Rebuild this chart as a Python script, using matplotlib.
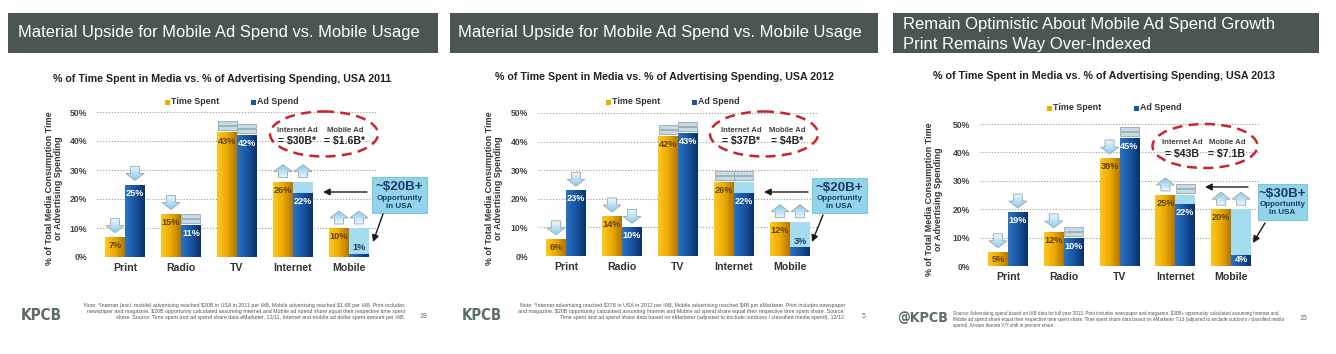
import numpy as np
import matplotlib
matplotlib.use("Agg")
import matplotlib.pyplot as plt
from matplotlib.patches import Rectangle, Polygon, Ellipse, FancyArrowPatch
from matplotlib.transforms import ScaledTranslation
from matplotlib.colors import LinearSegmentedColormap

plt.rcParams['font.family'] = ['Liberation Sans', 'DejaVu Sans']

# ---------------- data ----------------
categories = ["Print", "Radio", "TV", "Internet", "Mobile"]
y_ticks = [0, 10, 20, 30, 40, 50]
y_tick_labels = ["0%", "10%", "20%", "30%", "40%", "50%"]

time_2011 = [7, 15, 43, 26, 10]
ad_2011 = [25, 11, 42, 22, 1]
time_2012 = [6, 14, 42, 26, 12]
ad_2012 = [23, 10, 43, 22, 3]
time_2013 = [5, 12, 38, 25, 20]
ad_2013 = [19, 10, 45, 22, 4]

# Y/Y shift markers: d = down, u = up, e = flat
time_shift_2011 = ["d", "d", "e", "u", "u"]
ad_shift_2011 = ["d", "e", "e", "u", "u"]
time_shift_2012 = ["d", "d", "e", "e", "u"]
ad_shift_2012 = ["d", "d", "e", "e", "u"]
time_shift_2013 = ["d", "d", "d", "u", "u"]
ad_shift_2013 = ["d", "e", "e", "e", "u"]

opportunity_categories = ["Internet", "Mobile"]
internet_ad = ["$30B*", "$37B*", "$43B"]
mobile_ad = ["$1.6B*", "$4B*", "$7.1B"]
opportunity = ["~$20B+", "~$20B+", "~$30B+"]

slide_titles = [
    "Material Upside for Mobile Ad Spend vs. Mobile Usage",
    "Material Upside for Mobile Ad Spend vs. Mobile Usage",
    "Remain Optimistic About Mobile Ad Spend Growth\nPrint Remains Way Over-Indexed",
]
chart_titles = [
    "% of Time Spent in Media vs. % of Advertising Spending, USA 2011",
    "% of Time Spent in Media vs. % of Advertising Spending, USA 2012",
    "% of Time Spent in Media vs. % of Advertising Spending, USA 2013",
]
notes = [
    "Note: *Internet (excl. mobile) advertising reached $30B in USA in 2011 per IAB, Mobile advertising reached $1.6B per IAB. Print includes\n"
    "newspaper and magazine. $20B opportunity calculated assuming Internet and Mobile ad spend share equal their respective time spent\n"
    "share. Source: Time spent and ad spend share data eMarketer, 12/11, Internet and mobile ad dollar spent amount per IAB.",
    "Note: *Internet advertising reached $37B in USA in 2012 per IAB, Mobile advertising reached $4B per eMarketer. Print includes newspaper\n"
    "and magazine. $20B opportunity calculated assuming Internet and Mobile ad spend share equal their respective time spent share. Source:\n"
    "Time spent and ad spend share data based on eMarketer (adjusted to exclude outdoors / classified media spend), 12/12.",
    "Source: Advertising spend based on IAB data for full year 2013. Print includes newspaper and magazine. $30B+ opportunity calculated assuming Internet and\n"
    "Mobile ad spend share equal their respective time spent share. Time spent share data based on eMarketer 7/13 (adjusted to exclude outdoors / classified media\n"
    "spend). Arrows denote Y/Y shift in percent share.",
]
logos = ["KPCB", "KPCB", "@KPCB"]
page_numbers = ["19", "5", "15"]

times = [time_2011, time_2012, time_2013]
ads = [ad_2011, ad_2012, ad_2013]
time_shifts = [time_shift_2011, time_shift_2012, time_shift_2013]
ad_shifts = [ad_shift_2011, ad_shift_2012, ad_shift_2013]

# ---------------- layout (pixels) ----------------
W, H = 1336, 354
fig = plt.figure(figsize=(W / 100, H / 100), dpi=100)
fig.patch.set_facecolor("white")

layout = [
    dict(bar=(8, 13, 438, 53), title_x=18, title_y=[33], title_w=[400],
         sub=(222, 79, 338), leg_y=102, leg_x=(167, 253),
         ax=(97, 257, 377, 112), ylab_x=54, cat_y=266,
         ell=(324, 134, 108, 45), ell_txt=(297, 345, 130, 141),
         box=(372, 177, 427, 213), arr_l=((367, 192), (323, 192)),
         arr_d=((383, 214), (373, 242)), box_ty=(187, 198, 206),
         logo=(21, 316, 41), note=(405, 303, "right", 323), page=(423, 317)),
    dict(bar=(450, 13, 878, 53), title_x=458, title_y=[33], title_w=[403],
         sub=(664, 77, 339), leg_y=102, leg_x=(608, 694),
         ax=(538, 256, 818, 113), ylab_x=494, cat_y=266,
         ell=(764, 134, 108, 45), ell_txt=(741, 787, 130, 141),
         box=(812, 178, 867, 213), arr_l=((808, 192), (764, 192)),
         arr_d=((823, 215), (812, 242)), box_ty=(188, 199, 207),
         logo=(462, 316, 40), note=(845, 303, "right", 328), page=(864, 317)),
    dict(bar=(893, 13, 1319, 53), title_x=903, title_y=[24, 44], title_w=[372, 247],
         sub=(1104, 76, 342), leg_y=108, leg_x=(1049, 1136),
         ax=(980, 266, 1259, 124), ylab_x=934, cat_y=276,
         ell=(1205, 146, 105, 44), ell_txt=(1182, 1227, 143, 154),
         box=(1258, 184, 1307, 220), arr_l=((1248, 187), (1205, 187)),
         arr_d=((1265, 223), (1253, 243)), box_ty=(194, 205, 213),
         logo=(897, 318, 51), note=(953, 311, "left", 336), page=(1303, 318)),
]

renderer = fig.canvas.get_renderer()


def fit(t, target_w):
    bb = t.get_window_extent(renderer=renderer)
    if bb.width > 0:
        t.set_fontsize(t.get_fontsize() * target_w / bb.width)


TIME_C = ["#fbc824", "#eeaa00", "#b27600"]
AD_C = ["#2c72c4", "#1656a3", "#0b3068"]
OPP_C = "#a6dcef"
ARROW_EDGE = "#9aa6ab"
EQ_FILL = "#c4dbe8"

cm_time = LinearSegmentedColormap.from_list("t", TIME_C)
cm_ad = LinearSegmentedColormap.from_list("a", AD_C)
cm_arrow = LinearSegmentedColormap.from_list("ar", ["#8ccbeb", "#b9e1f5", "#eef8fd"])
grad = np.linspace(0, 1, 64).reshape(1, -1)
vgrad = np.linspace(0, 1, 64).reshape(-1, 1)


def gradient_bars(ax, bars, cmap):
    for b in bars:
        x0, w, h = b.get_x(), b.get_width(), b.get_height()
        if h <= 0:
            continue
        im = ax.imshow(grad, cmap=cmap, extent=(x0, x0 + w, 0, h), aspect="auto",
                       origin="lower", zorder=2.5, interpolation="bilinear")
        im.set_clip_path(b)


def marker(ax, x, y, kind):
    tr = fig.dpi_scale_trans + ScaledTranslation(x, y, ax.transData)
    p = 1 / 100.0
    if kind in ("d", "u"):
        g = 4
        if kind == "d":
            v = [(0, g), (-9, g + 7), (-4.5, g + 7), (-4.5, g + 14), (4.5, g + 14), (4.5, g + 7), (9, g + 7)]
            arr = vgrad          # tip (bottom) blue, base (top) pale
            top = g + 14
        else:
            v = [(-4.5, g), (-4.5, g + 6), (-9, g + 6), (0, g + 13), (9, g + 6), (4.5, g + 6), (4.5, g)]
            arr = vgrad[::-1]    # tip (top) blue, base (bottom) pale
            top = g + 13
        poly = Polygon([(a * p, b * p) for a, b in v], closed=True, transform=tr,
                       facecolor="none", edgecolor=ARROW_EDGE, lw=0.6, clip_on=False, zorder=4.1)
        ax.add_patch(poly)
        im = ax.imshow(arr, cmap=cm_arrow, extent=(-9 * p, 9 * p, g * p, top * p),
                       origin="lower", aspect="auto", transform=tr, zorder=4,
                       interpolation="bilinear", clip_on=True)
        im.set_clip_path(poly)
    else:
        for g in (2, 7):
            ax.add_patch(Rectangle((-9.5 * p, g * p), 19 * p, 4 * p, transform=tr,
                                   facecolor=EQ_FILL, edgecolor=ARROW_EDGE, lw=0.6, clip_on=False, zorder=4))


axes = []
for i, L in enumerate(layout):
    l, b, r, t = L["ax"]
    ax = fig.add_axes([l / W, 1 - b / H, (r - l) / W, (b - t) / H])
    axes.append(ax)
    ax.set_facecolor("none")
    for s in ax.spines.values():
        s.set_visible(False)
    x = np.arange(len(categories))
    bw = 0.357
    ax.set_xlim(-0.5, len(categories) - 0.5)
    ax.set_ylim(0, 50)
    tv, av = times[i], ads[i]
    # opportunity (light blue) for ad column = time spent share
    opp = [tv[k] if categories[k] in opportunity_categories else 0 for k in range(len(categories))]
    ax.bar(x + bw / 2, opp, bw, color=OPP_C, zorder=2)
    tb = ax.bar(x - bw / 2, tv, bw, color=TIME_C[1], zorder=2.4)
    ab = ax.bar(x + bw / 2, av, bw, color=AD_C[1], zorder=2.4)
    gradient_bars(ax, tb, cm_time)
    gradient_bars(ax, ab, cm_ad)
    for yv in y_ticks:
        ax.axhline(yv, color="#9a9a9a", lw=0.8, ls=(0, (1, 1.6)), zorder=1)
    for k in range(len(categories)):
        v = tv[k]
        ax.text(x[k] - bw / 2, max(v - 3, 2.3), f"{v}%", ha="center", va="center",
                fontsize=6.6, fontweight="bold", color="#5e4300", zorder=5)
        v = av[k]
        if v >= 4:
            ax.text(x[k] + bw / 2, max(v - 3, 2.3), f"{v}%", ha="center", va="center",
                    fontsize=6.6, fontweight="bold", color="white", zorder=5)
        else:
            ax.text(x[k] + bw / 2, v + 2.2, f"{v}%", ha="center", va="center",
                    fontsize=6.6, fontweight="bold", color="#1c3a66", zorder=5)
        marker(ax, x[k] - bw / 2, tv[k], time_shifts[i][k])
        marker(ax, x[k] + bw / 2, max(av[k], opp[k]), ad_shifts[i][k])
    ax.set_xlim(-0.5, len(categories) - 0.5)
    ax.set_ylim(0, 50)
    ax.set_yticks(y_ticks)
    ax.set_yticklabels(y_tick_labels)
    ax.set_xticks(x)
    ax.set_xticklabels(categories)
    ax.tick_params(axis="y", length=0, pad=7, labelsize=6.2, labelcolor="#444444")
    ax.tick_params(axis="x", length=0, pad=4, labelsize=7.6, labelcolor="#333333")
    for lab in ax.get_yticklabels() + ax.get_xticklabels():
        lab.set_fontweight("bold")

# ---------------- overlay in pixel coordinates ----------------
ov = fig.add_axes([0, 0, 1, 1])
ov.set_xlim(0, W)
ov.set_ylim(H, 0)
ov.axis("off")
ov.set_zorder(10)


def T(*a, **k):
    k.setdefault("parse_math", False)
    return ov.text(*a, **k)


for i, L in enumerate(layout):
    x0, y0, x1, y1 = L["bar"]
    ov.add_patch(Rectangle((x0, y0), x1 - x0, y1 - y0, facecolor="#4a5653", edgecolor="none"))
    lines = slide_titles[i].split("\n")
    for j, line in enumerate(lines):
        tt = T(L["title_x"], L["title_y"][j], line, color="white", fontsize=12,
               ha="left", va="center")
        fit(tt, L["title_w"][j])
    sx, sy, sw = L["sub"]
    st = T(sx, sy, chart_titles[i], ha="center", va="center", fontsize=8,
           fontweight="bold", color="#222222")
    fit(st, sw)
    # legend
    ly = L["leg_y"]
    for lx, col, name in zip(L["leg_x"], [TIME_C[1], AD_C[1]], ["Time Spent", "Ad Spend"]):
        ov.add_patch(Rectangle((lx - 2.5, ly - 2.5), 5, 5, facecolor=col, edgecolor="none"))
        T(lx + 4, ly, name, ha="left", va="center", fontsize=6.4,
          fontweight="bold", color="#333333")
    # y-axis label
    l, b, r, t = L["ax"]
    T(L["ylab_x"], (b + t) / 2 + 4, "% of Total Media Consumption Time\nor Advertising Spending",
      rotation=90, ha="center", va="center", fontsize=6.4, fontweight="bold",
      color="#333333", linespacing=1.0, multialignment="center")
    # dashed ellipse
    ex, ey, ew, eh = L["ell"]
    ov.add_patch(Ellipse((ex, ey), ew, eh, facecolor="none", edgecolor="#c9252d",
                         lw=1.8, ls=(0, (4, 2.5))))
    tx1, tx2, ty1, ty2 = L["ell_txt"]
    T(tx1, ty1, "Internet Ad", ha="center", va="center", fontsize=5.6,
      fontweight="bold", color="#404040")
    T(tx2, ty1, "Mobile Ad", ha="center", va="center", fontsize=5.6,
      fontweight="bold", color="#404040")
    T(tx1, ty2, "= " + internet_ad[i], ha="center", va="center", fontsize=7.6,
      fontweight="bold", color="#222222")
    T(tx2, ty2, "= " + mobile_ad[i], ha="center", va="center", fontsize=7.6,
      fontweight="bold", color="#222222")
    # callout box
    bx0, by0, bx1, by1 = L["box"]
    ov.add_patch(Rectangle((bx0, by0), bx1 - bx0, by1 - by0, facecolor="#92d5ea",
                           edgecolor="#7fc6dd", lw=0.8))
    bcx = (bx0 + bx1) / 2
    t1, t2, t3 = L["box_ty"]
    T(bcx, t1, opportunity[i], ha="center", va="center", fontsize=9.6,
      fontweight="bold", color="#1d3b66")
    T(bcx, t2, "Opportunity", ha="center", va="center", fontsize=5.8,
      fontweight="bold", color="#1d3b66")
    T(bcx, t3, "in USA", ha="center", va="center", fontsize=5.8,
      fontweight="bold", color="#1d3b66")
    for (p0, p1) in (L["arr_l"], L["arr_d"]):
        ov.add_patch(FancyArrowPatch(p0, p1, arrowstyle="-|>,head_length=4,head_width=2",
                                     color="#1a1a1a", lw=1.0, mutation_scale=1,
                                     shrinkA=0, shrinkB=0))
    # footer logo (condensed bold)
    gx, gy, gw = L["logo"]
    lg = T(gx, gy, logos[i], ha="left", va="center", fontsize=13.5, fontweight="bold",
           color="#5b6d67", family="DejaVu Sans", fontstretch="condensed")
    fit(lg, gw)
    nx, ny, nal, nw = L["note"]
    nt = T(nx, ny, notes[i], ha=nal, va="top", fontsize=3.4, color="#555555",
           linespacing=1.3, multialignment=nal)
    fit(nt, nw)
    px, py = L["page"]
    T(px, py, page_numbers[i], ha="center", va="center", fontsize=5, color="#666666")

fig.savefig("out.png", dpi=100, facecolor="white")
